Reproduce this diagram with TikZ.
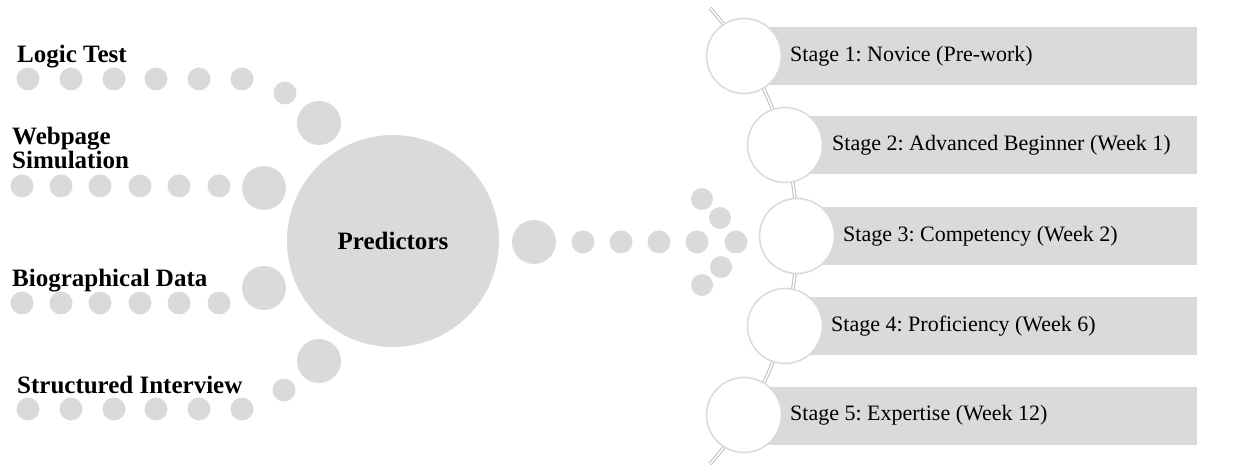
\documentclass[tikz,border=0pt]{standalone}
\usepackage{fontspec}
\setmainfont{Liberation Serif}
\definecolor{dotgray}{HTML}{DADADA}
\definecolor{linegray}{HTML}{BDBDBD}
\begin{document}
\frenchspacing
\begin{tikzpicture}[x=1pt,y=-1pt]
\tikzset{
 dot/.style={circle, fill=dotgray, inner sep=0pt, minimum size=23pt},
 adot/.style={circle, fill=dotgray, inner sep=0pt, minimum size=22pt},
 bigdot/.style={circle, fill=dotgray, inner sep=0pt, minimum size=44pt},
 lbl/.style={anchor=base west, inner sep=0pt, font=\fontsize{25}{28}\selectfont\bfseries},
 stagecirc/.style={circle, draw=dotgray, line width=1.5pt, fill=white, inner sep=0pt, minimum size=75pt},
 bar/.style={fill=dotgray, inner sep=0pt, minimum height=58pt, anchor=west},
 stagetxt/.style={anchor=west, inner sep=0pt, font=\fontsize{22}{26}\selectfont},
 spine/.style={draw=linegray, double=white, double distance=1.6pt, line width=1pt},
 hub/.style={circle, fill=dotgray, inner sep=0pt, minimum size=212pt, font=\fontsize{25}{28}\selectfont\bfseries}
}
\useasboundingbox (0,0) rectangle (1235,465);

% left labels
\node[lbl] (lt) at (17,63) {Logic Test};
\node[lbl] (wp1) at (12,145) {Webpage};
\node[lbl] (wp2) at (12,169) {Simulation};
\node[lbl] (bd) at (12,287) {Biographical Data};
\node[lbl] (si) at (17,393) {Structured Interview};

% left dot rows
\foreach \x [count=\i] in {28,71,114,156,199,242} \node[dot] (ltd\i) at (\x,79) {};
\node[dot] (ltd7) at (285,93) {};
\node[bigdot] (ltd8) at (319,123) {};

\foreach \x [count=\i] in {22,61,100,140,179,219} \node[dot] (wpd\i) at (\x,186) {};
\node[bigdot] (wpd7) at (264,188) {};

\foreach \x [count=\i] in {22,61,100,140,179,219} \node[dot] (bdd\i) at (\x,303) {};
\node[bigdot] (bdd7) at (264,288) {};

\foreach \x [count=\i] in {28,71,114,156,199,242} \node[dot] (sid\i) at (\x,409) {};
\node[dot] (sid7) at (284,390) {};
\node[bigdot] (sid8) at (319,361) {};

% hub
\node[hub] (pred) at (393,241) {Predictors};

% right arrow of dots
\node[bigdot] (rd0) at (534,242) {};
\foreach \x [count=\i] in {583,621,659,697,736} \node[dot] (rd\i) at (\x,242) {};
\node[adot] (ad1) at (702,199) {};
\node[adot] (ad2) at (720,218) {};
\node[adot] (ad3) at (721,267) {};
\node[adot] (ad4) at (702,285) {};

% spine
\draw[spine] plot[domain=-41.8:41.8, samples=80] ({455+342*cos(\x)},{236+342*sin(\x)});

% bars
\node[bar, minimum width=453pt] (b1) at (744,56) {};
\node[bar, minimum width=412pt] (b2) at (785,145.5) {};
\node[bar, minimum width=400pt] (b3) at (797,236) {};
\node[bar, minimum width=412pt] (b4) at (785,326) {};
\node[bar, minimum width=453pt] (b5) at (744,415.5) {};

% stage circles
\node[stagecirc] (s1) at (744,56) {};
\node[stagecirc] (s2) at (785,145) {};
\node[stagecirc] (s3) at (797,236) {};
\node[stagecirc] (s4) at (785,326) {};
\node[stagecirc] (s5) at (744,415) {};

% stage texts
\node[stagetxt] (t1) at (790,56) {Stage 1: Novice (Pre-work)};
\node[stagetxt] (t2) at (832,145.5) {Stage 2: Advanced Beginner (Week 1)};
\node[stagetxt] (t3) at (843,236) {Stage 3: Competency (Week 2)};
\node[stagetxt] (t4) at (831,326) {Stage 4: Proficiency (Week 6)};
\node[stagetxt] (t5) at (790,415.5) {Stage 5: Expertise (Week 12)};
\end{tikzpicture}
\end{document}
